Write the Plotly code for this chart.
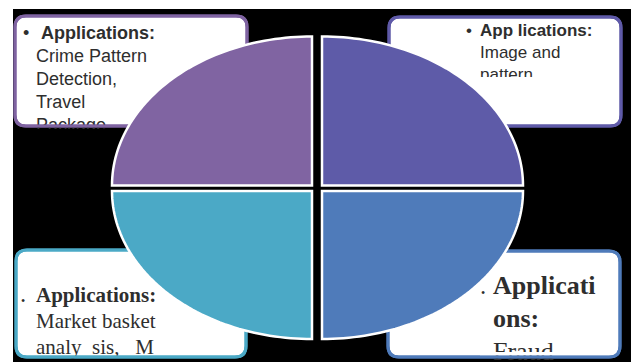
import numpy as np
import plotly.graph_objects as go

W, H = 631, 362

# ---------------- content (text) ----------------
TL_LINES = ["Applications:", "Crime Pattern", "Detection,", "Travel", "Package"]
TR_LINES = ["App lications:", "Image and", "pattern"]
BL_LINES = ["Applications:", "Market basket", "analy\u00a0\u00a0sis,\u00a0\u00a0\u00a0M"]
BR_LINES = ["Applicati", "ons:", "Fraud"]
QUADRANTS = ["top-left", "top-right", "bottom-left", "bottom-right"]

# ---------------- layout / style spec ----------------
SANS = "Arial, Liberation Sans, sans-serif"
SERIF = "Times New Roman, Liberation Serif, serif"
TEXT_COLOR = "#2e2e2e"

boxes = [
    dict(lines=TL_LINES, x0=15, y0=16, x1=247, y1=126, border="#7F63A1",
         font=SANS, size=18, bsize=18, base0=41, step=23, bullet_dy=-6.3,
         bullet_x=23, first_x=41, rest_x=36, clip=(16, 129, 130, 142), clipcol="black",
         bold_rows=[0]),
    dict(lines=TR_LINES, x0=389, y0=17, x1=621, y1=126, border="#5F5AA8",
         font=SANS, size=17, bsize=17, base0=38, step=22, bullet_dy=-6,
         bullet_x=466, first_x=480, rest_x=480, clip=(462, 77, 619, 124), clipcol="white",
         bold_rows=[0]),
    dict(lines=BL_LINES, x0=16, y0=250, x1=246, y1=357, border="#4BA9C6",
         font=SERIF, size=21, bsize=12, base0=304, step=26, bullet_dy=-2,
         bullet_x=21, first_x=36, rest_x=36, clip=None, clipcol=None,
         bold_rows=[0]),
    dict(lines=BR_LINES, x0=388, y0=251, x1=620, y1=357, border="#4F7BBA",
         font=SERIF, size=26, bsize=12, base0=297, step=33, bullet_dy=-3,
         bullet_x=481, first_x=493, rest_x=493, clip=(480, 352, 618, 355.5), clipcol="white",
         bold_rows=[0, 1]),
]

ellipse_quads = [
    dict(cx=312, cy=185.5, rx=200, ry=149, sx=-1, sy=-1, color="#8064A2"),
    dict(cx=322, cy=185.5, rx=201, ry=149, sx=1, sy=-1, color="#5E5BA8"),
    dict(cx=312, cy=191, rx=200, ry=148, sx=-1, sy=1, color="#4BA9C6"),
    dict(cx=322, cy=191, rx=201, ry=148, sx=1, sy=1, color="#4F7BBA"),
]


def rounded_rect(x0, y0, x1, y1, r):
    return (f"M {x0+r},{y0} L {x1-r},{y0} Q {x1},{y0} {x1},{y0+r} "
            f"L {x1},{y1-r} Q {x1},{y1} {x1-r},{y1} L {x0+r},{y1} "
            f"Q {x0},{y1} {x0},{y1-r} L {x0},{y0+r} Q {x0},{y0} {x0+r},{y0} Z")


def quarter_ellipse(q):
    t = np.linspace(0, np.pi / 2, 60)
    xs = q["cx"] + q["sx"] * q["rx"] * np.cos(t)
    ys = q["cy"] + q["sy"] * q["ry"] * np.sin(t)
    pts = " ".join(f"L {x:.2f},{y:.2f}" for x, y in zip(xs, ys))
    return f"M {q['cx']},{q['cy']} {pts} Z"


fig = go.Figure()
shapes = []

# black backdrop
shapes.append(dict(type="rect", x0=13, y0=9, x1=W + 2, y1=H + 2, fillcolor="black",
                   line=dict(width=0), layer="below"))
# box fills
for b in boxes:
    shapes.append(dict(type="path", path=rounded_rect(b["x0"], b["y0"], b["x1"], b["y1"], 11),
                       fillcolor="white", line=dict(color=b["border"], width=3), layer="below"))

# text as traces (clipped later by covers)
for b in boxes:
    fs = b["size"]
    bases = [b["base0"] + i * b["step"] for i in range(len(b["lines"]))]
    ys = [yb - 0.35 * fs for yb in bases]
    xs = [b["first_x"]] + [b["rest_x"]] * (len(b["lines"]) - 1)
    texts = [f"<b>{t}</b>" if i in b["bold_rows"] else t for i, t in enumerate(b["lines"])]
    fig.add_trace(go.Scatter(
        x=xs, y=ys, mode="text", text=texts,
        textposition="middle right",
        textfont=dict(family=b["font"], size=fs, color=TEXT_COLOR),
        hoverinfo="skip", showlegend=False, cliponaxis=True))
    # bullet
    fig.add_trace(go.Scatter(
        x=[b["bullet_x"]], y=[bases[0] + b["bullet_dy"]],
        mode="text", text=["•"], textposition="middle right",
        textfont=dict(family=b["font"], size=b["bsize"], color=TEXT_COLOR),
        hoverinfo="skip", showlegend=False))

# clipping covers, outlines redrawn, then ellipse quadrants on top
for b in boxes:
    if b["clip"]:
        cx0, cy0, cx1, cy1 = b["clip"]
        shapes.append(dict(type="rect", x0=cx0, y0=cy0, x1=cx1, y1=cy1,
                           fillcolor=b["clipcol"], line=dict(width=0), layer="above"))
for b in boxes:
    shapes.append(dict(type="path", path=rounded_rect(b["x0"], b["y0"], b["x1"], b["y1"], 11),
                       fillcolor="rgba(0,0,0,0)", line=dict(color=b["border"], width=3),
                       layer="above"))
for q in ellipse_quads:
    shapes.append(dict(type="path", path=quarter_ellipse(q), fillcolor=q["color"],
                       line=dict(color="white", width=2.5), layer="above"))

fig.update_layout(
    width=W, height=H, margin=dict(l=0, r=0, t=0, b=0),
    paper_bgcolor="white", plot_bgcolor="white",
    xaxis=dict(range=[0, W], visible=False, fixedrange=True),
    yaxis=dict(range=[H, 0], visible=False, fixedrange=True),
    shapes=shapes, showlegend=False,
)
fig.write_html("out.html")
